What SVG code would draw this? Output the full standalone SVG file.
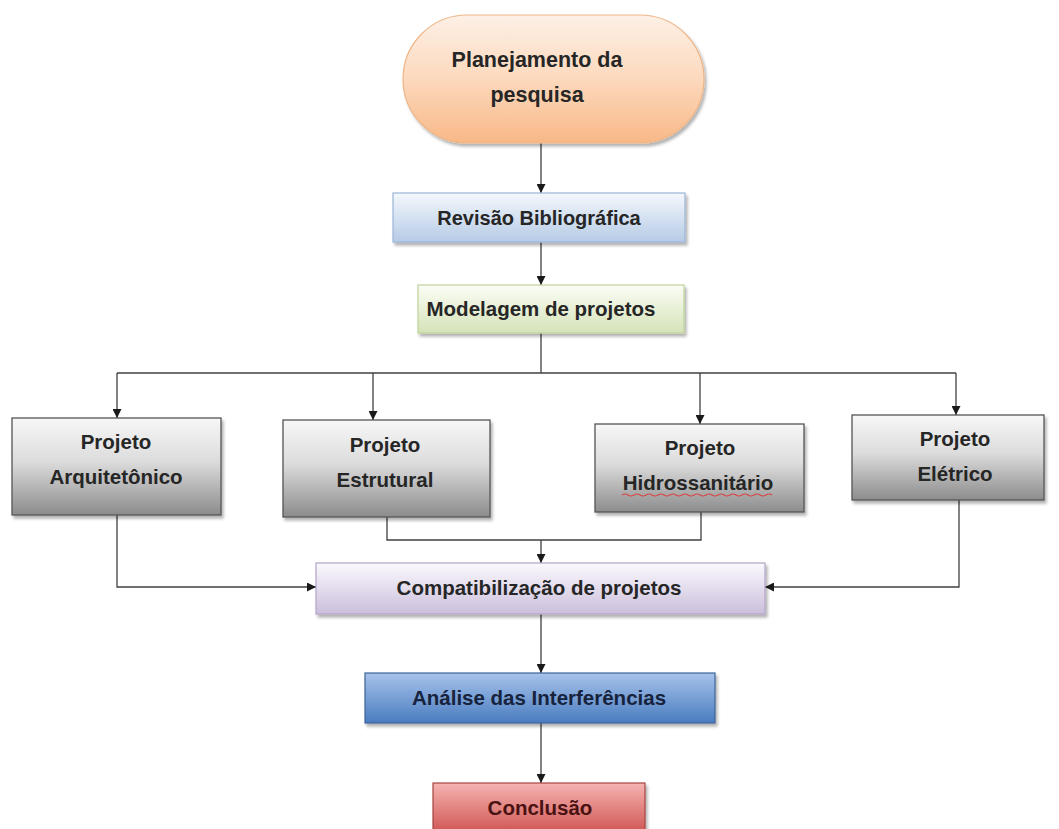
<svg xmlns="http://www.w3.org/2000/svg" width="1059" height="829" viewBox="0 0 1059 829">
<defs>
<linearGradient id="gPeach" x1="0" y1="0" x2="0" y2="1"><stop offset="0" stop-color="#fdf0e6"/><stop offset="0.5" stop-color="#fcd9bd"/><stop offset="1" stop-color="#f8b887"/></linearGradient>
<linearGradient id="gBlue" x1="0" y1="0" x2="0" y2="1"><stop offset="0" stop-color="#f4f8fc"/><stop offset="1" stop-color="#b6cbe6"/></linearGradient>
<linearGradient id="gGreen" x1="0" y1="0" x2="0" y2="1"><stop offset="0" stop-color="#fbfdf6"/><stop offset="1" stop-color="#d5e3b8"/></linearGradient>
<linearGradient id="gGray" x1="0" y1="0" x2="0" y2="1"><stop offset="0" stop-color="#f7f7f7"/><stop offset="0.45" stop-color="#dcdcdc"/><stop offset="1" stop-color="#8c8c8c"/></linearGradient>
<linearGradient id="gLilac" x1="0" y1="0" x2="0" y2="1"><stop offset="0" stop-color="#fbf9fd"/><stop offset="1" stop-color="#cbbfdc"/></linearGradient>
<linearGradient id="gDBlue" x1="0" y1="0" x2="0" y2="1"><stop offset="0" stop-color="#a6c3ea"/><stop offset="1" stop-color="#4a7cc0"/></linearGradient>
<linearGradient id="gRed" x1="0" y1="0" x2="0" y2="1"><stop offset="0" stop-color="#f5b4b2"/><stop offset="1" stop-color="#cf5552"/></linearGradient>
<filter id="sh" x="-10%" y="-10%" width="120%" height="140%"><feDropShadow dx="2" dy="3" stdDeviation="1.5" flood-color="#000" flood-opacity="0.3"/></filter>
<marker id="arr" viewBox="0 0 10 10" refX="10" refY="5" markerWidth="9" markerHeight="9" markerUnits="userSpaceOnUse" orient="auto"><path d="M0,0 L10,5 L0,10 z" fill="#1a1a1a"/></marker>
</defs>
<style>
.t{font-family:"Liberation Sans",Arial,sans-serif;font-weight:bold;font-size:20.5px;fill:#262626;text-anchor:middle}
.c{fill:none;stroke:#404040;stroke-width:1.3}
</style>
<rect width="1059" height="829" fill="#ffffff"/>
<g id="connectors">
<path class="c" d="M541,143 V193" marker-end="url(#arr)"/>
<path class="c" d="M541,242 V285" marker-end="url(#arr)"/>
<path class="c" d="M541,333 V373"/>
<path class="c" d="M117,373 H956"/>
<path class="c" d="M117,373 V418" marker-end="url(#arr)"/>
<path class="c" d="M373,373 V420" marker-end="url(#arr)"/>
<path class="c" d="M700,373 V424" marker-end="url(#arr)"/>
<path class="c" d="M956,373 V415" marker-end="url(#arr)"/>
<path class="c" d="M387,517 V540 H701 V512"/>
<path class="c" d="M541,540 V563" marker-end="url(#arr)"/>
<path class="c" d="M117,515 V587 H316" marker-end="url(#arr)"/>
<path class="c" d="M959,500 V587 H765" marker-end="url(#arr)"/>
<path class="c" d="M541,614 V673" marker-end="url(#arr)"/>
<path class="c" d="M541,723 V783" marker-end="url(#arr)"/>
</g>
<g id="planejamento">
<rect x="403" y="15" width="301" height="128" rx="64" fill="url(#gPeach)" stroke="#eeb688" stroke-width="1.2" filter="url(#sh)"/>
<text class="t" x="537" y="67" style="font-size:21.5px">Planejamento da</text>
<text class="t" x="537" y="102" style="font-size:21.5px">pesquisa</text>
</g>
<g id="revisao">
<rect x="393" y="193" width="292" height="49" fill="url(#gBlue)" stroke="#9bb5d8" stroke-width="1.2" filter="url(#sh)"/>
<text class="t" x="539" y="225" style="font-size:20px">Revisão Bibliográfica</text>
</g>
<g id="modelagem">
<rect x="418" y="285" width="266" height="48" fill="url(#gGreen)" stroke="#bfd29a" stroke-width="1.2" filter="url(#sh)"/>
<text class="t" x="541" y="316">Modelagem de projetos</text>
</g>
<g id="arquitetonico">
<rect x="12" y="418" width="209" height="97" fill="url(#gGray)" stroke="#555" stroke-width="1.3" filter="url(#sh)"/>
<text class="t" x="116" y="449">Projeto</text>
<text class="t" x="116" y="484">Arquitetônico</text>
</g>
<g id="estrutural">
<rect x="283" y="420" width="207" height="97" fill="url(#gGray)" stroke="#555" stroke-width="1.3" filter="url(#sh)"/>
<text class="t" x="385" y="452">Projeto</text>
<text class="t" x="385" y="487">Estrutural</text>
</g>
<g id="hidrossanitario">
<rect x="595" y="424" width="209" height="88" fill="url(#gGray)" stroke="#555" stroke-width="1.3" filter="url(#sh)"/>
<text class="t" x="700" y="455">Projeto</text>
<text class="t" x="698" y="490">Hidrossanitário</text>
<path d="M622,495 q3,-2 6,0 t6,0 t6,0 t6,0 t6,0 t6,0 t6,0 t6,0 t6,0 t6,0 t6,0 t6,0 t6,0 t6,0 t6,0 t6,0 t6,0 t6,0 t6,0 t6,0 t6,0 t6,0 t6,0 t6,0 t6,0" fill="none" stroke="#d84444" stroke-width="1.2"/>
</g>
<g id="eletrico">
<rect x="852" y="415" width="192" height="85" fill="url(#gGray)" stroke="#555" stroke-width="1.3" filter="url(#sh)"/>
<text class="t" x="955" y="446">Projeto</text>
<text class="t" x="955" y="481">Elétrico</text>
</g>
<g id="compatibilizacao">
<rect x="316" y="563" width="449" height="51" fill="url(#gLilac)" stroke="#b3a4c8" stroke-width="1.2" filter="url(#sh)"/>
<text class="t" x="539" y="595">Compatibilização de projetos</text>
</g>
<g id="analise">
<rect x="365" y="673" width="350" height="50" fill="url(#gDBlue)" stroke="#3d6399" stroke-width="1.2" filter="url(#sh)"/>
<text class="t" x="539" y="705" style="fill:#17233d">Análise das Interferências</text>
</g>
<g id="conclusao">
<rect x="433" y="783" width="212" height="50" fill="url(#gRed)" stroke="#a74442" stroke-width="1.2" filter="url(#sh)"/>
<text class="t" x="540" y="815" style="fill:#4a1212">Conclusão</text>
</g>
</svg>
